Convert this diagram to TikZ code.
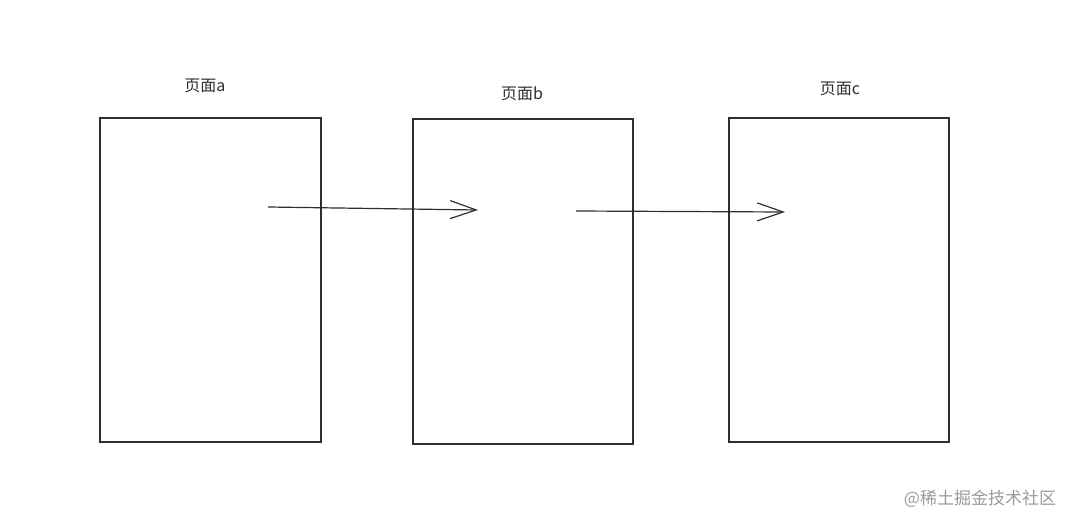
\documentclass[tikz,border=0pt]{standalone}
\usepackage{fontspec}
\newfontfamily\cjk{Noto Sans CJK SC}
\usetikzlibrary{arrows.meta}
\definecolor{ink}{HTML}{2E2E2E}
\definecolor{wm}{HTML}{9A9A9A}
\tikzset{
  page/.style={draw=ink, line width=1.1pt, inner sep=0pt, fill=none},
  lbl/.style={font=\cjk\fontsize{16}{18}\selectfont, text=ink, inner sep=0pt},
  flow/.style={draw=ink, line width=1.2pt, -{Straight Barb[length=26pt,width=18pt,line width=1.2pt]}},
  wmark/.style={font=\cjk\fontsize{17}{19}\selectfont, text=wm, inner sep=0pt}
}
\begin{document}
\begin{tikzpicture}[x=1pt,y=-1pt]
\useasboundingbox (0,0) rectangle (1078,527);
\node[page, minimum width=221pt, minimum height=324pt] (pa) at (210.5,280) {};
\node[page, minimum width=220pt, minimum height=325pt] (pb) at (523,281.5) {};
\node[page, minimum width=220pt, minimum height=324pt] (pc) at (839,280) {};
\node[lbl] (la) at (205,86) {页面a};
\node[lbl] (lb) at (522,94) {页面b};
\node[lbl] (lc) at (840,89) {页面c};
\coordinate (a1) at (268,207);
\coordinate (a2) at (478,210);
\coordinate (b1) at (576,211);
\coordinate (b2) at (785,212);
\draw[flow] (a1) -- (a2);
\draw[flow] (b1) -- (b2);
\node[wmark] (wm) at (980,499) {@稀土掘金技术社区};
\end{tikzpicture}
\end{document}
